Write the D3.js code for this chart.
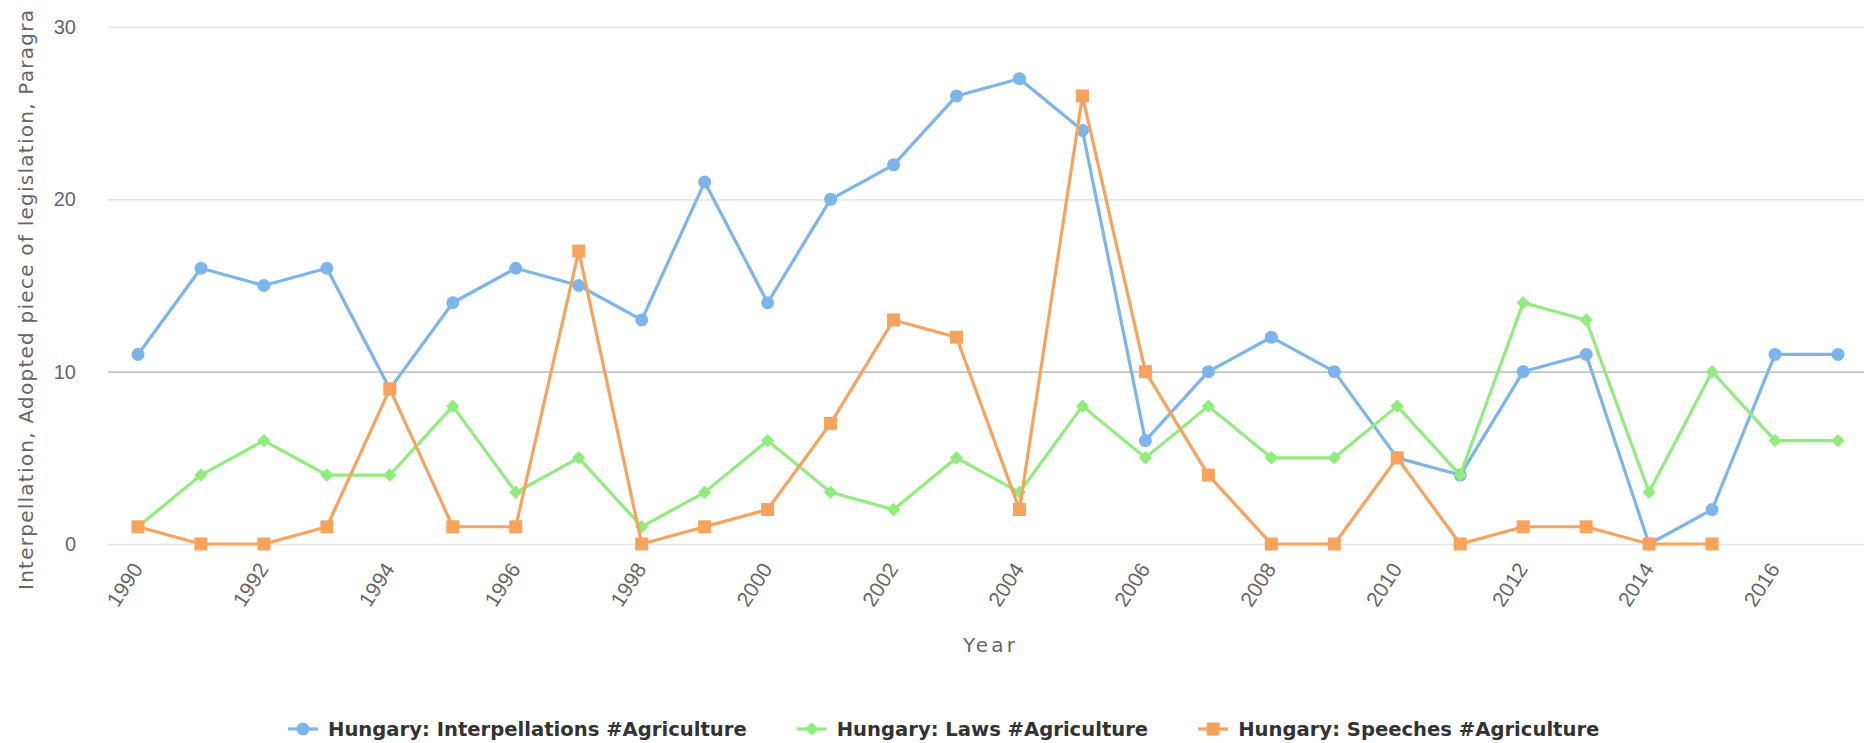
<!DOCTYPE html>
<html>
<head>
  <meta charset="UTF-8">
  <title>Hungary #Agriculture</title>
  <script src="https://d3js.org/d3.v7.min.js"></script>
  <style>
    body {
      margin: 0;
      background: #ffffff;
      font-family: "DejaVu Sans", Verdana, sans-serif;
    }
    .grid line { stroke: #e6e6e6; stroke-width: 1.6px; }
    .grid line.ten { stroke: #c4c4c4; }
    .grid text { fill: #666666; font-size: 20px; }
    .x-axis text { fill: #666666; font-size: 21px; }
    .axis-title { fill: #666666; font-size: 20px; }
    .series { fill: none; stroke-width: 3.2px; stroke-linejoin: round; stroke-linecap: round; }
    .legend text { fill: #333333; font-size: 19.6px; font-weight: bold; }
  </style>
</head>
<body>
  <svg id="chart" width="1864" height="743"></svg>

  <script>
    // data
    const years = [1990, 1991, 1992, 1993, 1994, 1995, 1996, 1997, 1998, 1999,
                   2000, 2001, 2002, 2003, 2004, 2005, 2006, 2007, 2008, 2009,
                   2010, 2011, 2012, 2013, 2014, 2015, 2016, 2017];
    const interpellations = [11, 16, 15, 16, 9, 14, 16, 15, 13, 21,
                             14, 20, 22, 26, 27, 24, 6, 10, 12, 10,
                             5, 4, 10, 11, 0, 2, 11, 11];
    const laws = [1, 4, 6, 4, 4, 8, 3, 5, 1, 3,
                  6, 3, 2, 5, 3, 8, 5, 8, 5, 5,
                  8, 4, 14, 13, 3, 10, 6, 6];
    const speeches = [1, 0, 0, 1, 9, 1, 1, 17, 0, 1,
                      2, 7, 13, 12, 2, 26, 10, 4, 0, 0,
                      5, 0, 1, 1, 0, 0, null, null];
    const yTicks = [0, 10, 20, 30];
    const xTickLabels = [1990, 1992, 1994, 1996, 1998, 2000, 2002, 2004,
                         2006, 2008, 2010, 2012, 2014, 2016];
    const seriesNames = ["Hungary: Interpellations #Agriculture",
                         "Hungary: Laws #Agriculture",
                         "Hungary: Speeches #Agriculture"];
    const seriesColors = ["#7cb5ec", "#90ed7d", "#f7a35c"];

    const series = [
      { name: seriesNames[0], color: seriesColors[0], values: interpellations, symbol: "circle" },
      { name: seriesNames[1], color: seriesColors[1], values: laws, symbol: "diamond" },
      { name: seriesNames[2], color: seriesColors[2], values: speeches, symbol: "square" }
    ];

    const plot = { left: 108, right: 1864, top: 27, bottom: 544 };

    const svg = d3.select("#chart");

    const x = d3.scalePoint()
        .domain(years)
        .range([138, 1838]);

    const y = d3.scaleLinear()
        .domain([0, 30])
        .range([plot.bottom, plot.top]);

    // grid + y labels
    const grid = svg.append("g")
        .attr("class", "grid")
        .attr("transform", `translate(${plot.left},0)`)
        .call(d3.axisLeft(y)
          .tickValues(yTicks)
          .tickSize(-(plot.right - plot.left))
          .tickPadding(32));
    grid.select(".domain").remove();
    grid.selectAll(".tick line").classed("ten", d => d === 10);
    grid.selectAll(".tick text").attr("font-size", null).attr("font-family", null);

    // x labels, rotated
    const xAxis = svg.append("g")
        .attr("class", "x-axis")
        .attr("transform", `translate(0,${plot.bottom})`)
        .call(d3.axisBottom(x).tickValues(xTickLabels).tickSize(0));
    xAxis.select(".domain").remove();
    xAxis.selectAll(".tick text")
        .attr("font-size", null)
        .attr("font-family", null)
        .attr("text-anchor", "end")
        .attr("dy", null)
        .attr("y", 0)
        .attr("transform", "translate(5,25) rotate(-57)");

    // axis titles
    svg.append("text")
        .attr("class", "axis-title")
        .attr("transform", "translate(33,300) rotate(-90)")
        .attr("text-anchor", "middle")
        .attr("textLength", 580)
        .attr("lengthAdjust", "spacing")
        .text("Interpellation, Adopted piece of legislation, Paragra");

    svg.append("text")
        .attr("class", "axis-title")
        .attr("x", (plot.left + plot.right) / 2 + 3)
        .attr("y", 652)
        .attr("text-anchor", "middle")
        .attr("textLength", 52)
        .attr("lengthAdjust", "spacing")
        .text("Year");

    // lines and markers
    const line = d3.line()
        .defined(d => d != null)
        .x((d, i) => x(years[i]))
        .y(d => y(d));

    function marker(type) {
      if (type === "circle") return d3.symbol(d3.symbolCircle, Math.PI * 6.5 * 6.5)();
      if (type === "square") return d3.symbol(d3.symbolSquare, 13 * 13)();
      return d3.symbol(d3.symbolSquare, 9.5 * 9.5)();
    }

    series.forEach(s => {
      const g = svg.append("g");
      g.append("path")
          .attr("class", "series")
          .attr("stroke", s.color)
          .attr("d", line(s.values));
      g.selectAll("path.pt")
        .data(s.values.map((v, i) => ({ v, year: years[i] })).filter(d => d.v != null))
        .join("path")
          .attr("class", "pt")
          .attr("fill", s.color)
          .attr("d", marker(s.symbol))
          .attr("transform", d => `translate(${x(d.year)},${y(d.v)})` + (s.symbol === "diamond" ? " rotate(45)" : ""));
    });

    // legend
    const legend = svg.append("g").attr("class", "legend");
    let lx = 288;
    const ly = 729;
    series.forEach(s => {
      const item = legend.append("g").attr("transform", `translate(${lx},${ly})`);
      item.append("line")
          .attr("x1", 0).attr("x2", 30)
          .attr("stroke", s.color)
          .attr("stroke-width", 3.2);
      item.append("path")
          .attr("fill", s.color)
          .attr("d", marker(s.symbol))
          .attr("transform", "translate(15,0)" + (s.symbol === "diamond" ? " rotate(45)" : ""));
      const t = item.append("text")
          .attr("x", 40)
          .attr("dy", "0.36em")
          .text(s.name);
      lx += 40 + t.node().getComputedTextLength() + 50;
    });
  </script>
</body>
</html>
